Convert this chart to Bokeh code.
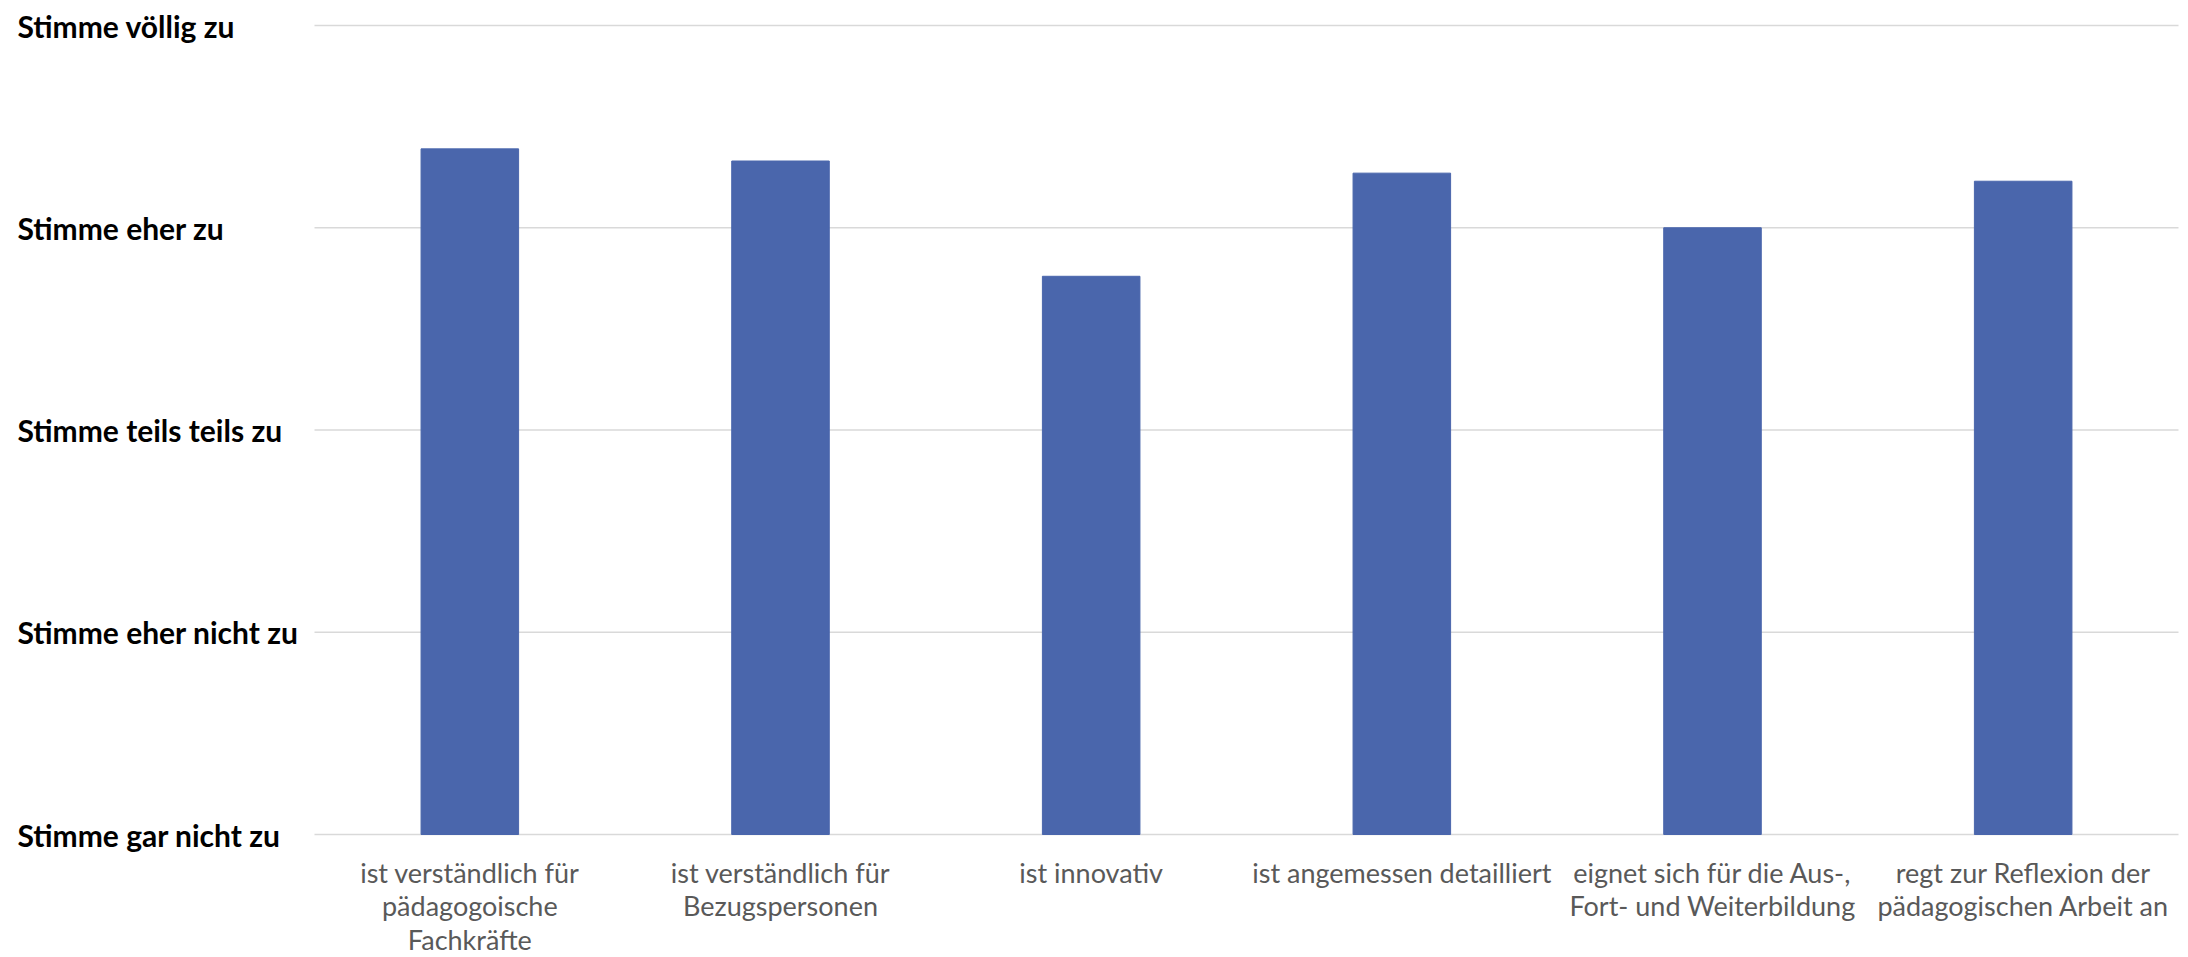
from bokeh.plotting import figure
from bokeh.models import Range1d
from bokeh.core.properties import value
from bokeh.embed import file_html
from bokeh.resources import INLINE

# ---- data ----
categories = [
    "ist verständlich für\npädagogoische\nFachkräfte",
    "ist verständlich für\nBezugspersonen",
    "ist innovativ",
    "ist angemessen detailliert",
    "eignet sich für die Aus-,\nFort- und Weiterbildung",
    "regt zur Reflexion der\npädagogischen Arbeit an",
]
values = [4.39, 4.33, 3.76, 4.27, 4.00, 4.23]
levels = [1, 2, 3, 4, 5]
level_labels = [
    "Stimme gar nicht zu",
    "Stimme eher nicht zu",
    "Stimme teils teils zu",
    "Stimme eher zu",
    "Stimme völlig zu",
]

# ---- layout ----
W, H = 2188, 957
n = len(categories)
frame_left_px, frame_right_px = 314, 2178      # category area in canvas px
top_px, bottom_px = 25, 834                    # y=max / y=min level in canvas px
px_cat = (frame_right_px - frame_left_px) / n
x_start = -frame_left_px / px_cat
x_end = n + (W - frame_right_px) / px_cat
ymin, ymax = min(levels), max(levels)
px_y = (bottom_px - top_px) / (ymax - ymin)
y_end = ymax + top_px / px_y
y_start = ymin - (H - bottom_px) / px_y

p = figure(width=W, height=H, x_range=Range1d(x_start, x_end), y_range=Range1d(y_start, y_end),
           min_border=0, toolbar_location=None, output_backend="svg",
           x_axis_location=None, y_axis_location=None, outline_line_color=None)
p.grid.grid_line_color = None
p.background_fill_color = "white"
p.border_fill_color = "white"

xs = [i + 0.5 for i in range(n)]

# gridlines
p.segment(x0=[0] * len(levels), x1=[n] * len(levels), y0=levels, y1=levels,
          line_color="#d9d9d9", line_width=1.6)

# bars
p.vbar(x=xs, top=values, bottom=ymin, width=0.314, fill_color="#4a66ac", line_color="#4a66ac")

# y level labels
p.text(x=[x_start] * len(levels), y=levels, text=level_labels, x_offset=17,
       text_align="left", text_baseline="middle", text_font=value("Lato"),
       text_font_style="bold", text_font_size="30px", text_color="black")

# category labels
p.text(x=xs, y=[ymin] * n, text=categories, y_offset=21,
       text_align="center", text_baseline="top", text_font=value("Lato"),
       text_font_size="27px", text_color="#595959", text_line_height=1.02)

open("out.html", "w").write(file_html(p, INLINE))
